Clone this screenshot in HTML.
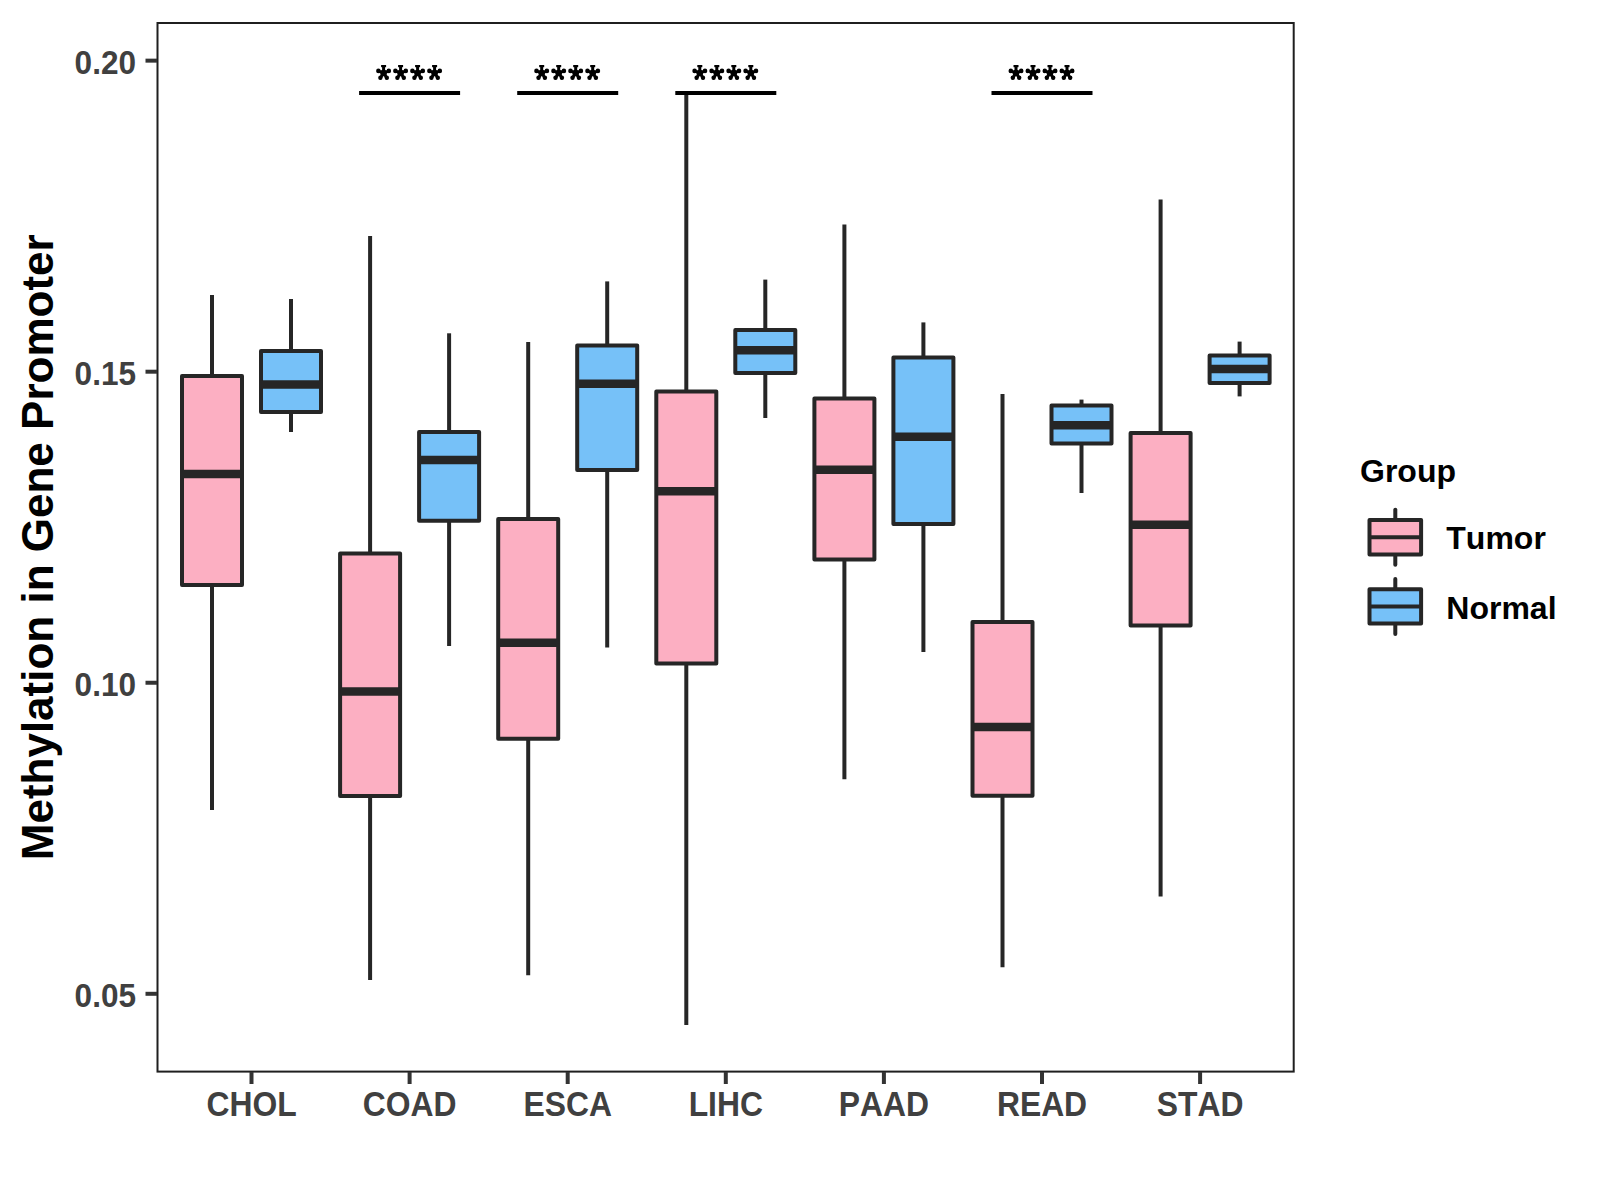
<!DOCTYPE html><html><head><meta charset="utf-8"><style>html,body{margin:0;padding:0;background:#fff;width:1600px;height:1200px;overflow:hidden}svg{display:block}text{font-family:"Liberation Sans", sans-serif;font-weight:bold;font-kerning:none}</style></head><body>
<svg width="1600" height="1200" viewBox="0 0 1600 1200">
<rect width="1600" height="1200" fill="#fff"/>
<line x1="212" y1="295" x2="212" y2="376" stroke="#262626" stroke-width="4"/><line x1="212" y1="585" x2="212" y2="810" stroke="#262626" stroke-width="4"/><rect x="182" y="376" width="60" height="209" fill="#FCAFC2" stroke="#262626" stroke-width="4" stroke-linejoin="round"/><line x1="182" y1="474" x2="242" y2="474" stroke="#262626" stroke-width="8.5"/>
<line x1="291" y1="299" x2="291" y2="351" stroke="#262626" stroke-width="4"/><line x1="291" y1="412" x2="291" y2="432" stroke="#262626" stroke-width="4"/><rect x="261" y="351" width="60" height="61" fill="#76C1F8" stroke="#262626" stroke-width="4" stroke-linejoin="round"/><line x1="261" y1="384.4" x2="321" y2="384.4" stroke="#262626" stroke-width="8.5"/>
<line x1="370.1" y1="236" x2="370.1" y2="553.5" stroke="#262626" stroke-width="4"/><line x1="370.1" y1="795.9" x2="370.1" y2="980" stroke="#262626" stroke-width="4"/><rect x="340.1" y="553.5" width="60" height="242.4" fill="#FCAFC2" stroke="#262626" stroke-width="4" stroke-linejoin="round"/><line x1="340.1" y1="691.6" x2="400.1" y2="691.6" stroke="#262626" stroke-width="8.5"/>
<line x1="449.1" y1="333.3" x2="449.1" y2="432" stroke="#262626" stroke-width="4"/><line x1="449.1" y1="520.7" x2="449.1" y2="646" stroke="#262626" stroke-width="4"/><rect x="419.1" y="432" width="60" height="88.7" fill="#76C1F8" stroke="#262626" stroke-width="4" stroke-linejoin="round"/><line x1="419.1" y1="460" x2="479.1" y2="460" stroke="#262626" stroke-width="8.5"/>
<line x1="528.2" y1="342" x2="528.2" y2="519" stroke="#262626" stroke-width="4"/><line x1="528.2" y1="738.75" x2="528.2" y2="975.3" stroke="#262626" stroke-width="4"/><rect x="498.2" y="519" width="60" height="219.75" fill="#FCAFC2" stroke="#262626" stroke-width="4" stroke-linejoin="round"/><line x1="498.2" y1="642.7" x2="558.2" y2="642.7" stroke="#262626" stroke-width="8.5"/>
<line x1="607.2" y1="281.4" x2="607.2" y2="345.6" stroke="#262626" stroke-width="4"/><line x1="607.2" y1="470" x2="607.2" y2="647.6" stroke="#262626" stroke-width="4"/><rect x="577.2" y="345.6" width="60" height="124.4" fill="#76C1F8" stroke="#262626" stroke-width="4" stroke-linejoin="round"/><line x1="577.2" y1="383.7" x2="637.2" y2="383.7" stroke="#262626" stroke-width="8.5"/>
<line x1="686.3" y1="94.5" x2="686.3" y2="391.6" stroke="#262626" stroke-width="4"/><line x1="686.3" y1="663.4" x2="686.3" y2="1025" stroke="#262626" stroke-width="4"/><rect x="656.3" y="391.6" width="60" height="271.8" fill="#FCAFC2" stroke="#262626" stroke-width="4" stroke-linejoin="round"/><line x1="656.3" y1="491.3" x2="716.3" y2="491.3" stroke="#262626" stroke-width="8.5"/>
<line x1="765.3" y1="279.6" x2="765.3" y2="330" stroke="#262626" stroke-width="4"/><line x1="765.3" y1="373" x2="765.3" y2="418" stroke="#262626" stroke-width="4"/><rect x="735.3" y="330" width="60" height="43" fill="#76C1F8" stroke="#262626" stroke-width="4" stroke-linejoin="round"/><line x1="735.3" y1="350.2" x2="795.3" y2="350.2" stroke="#262626" stroke-width="8.5"/>
<line x1="844.4" y1="224.6" x2="844.4" y2="398.4" stroke="#262626" stroke-width="4"/><line x1="844.4" y1="559.4" x2="844.4" y2="779.3" stroke="#262626" stroke-width="4"/><rect x="814.4" y="398.4" width="60" height="161" fill="#FCAFC2" stroke="#262626" stroke-width="4" stroke-linejoin="round"/><line x1="814.4" y1="469.8" x2="874.4" y2="469.8" stroke="#262626" stroke-width="8.5"/>
<line x1="923.4" y1="322.4" x2="923.4" y2="357.4" stroke="#262626" stroke-width="4"/><line x1="923.4" y1="524" x2="923.4" y2="652" stroke="#262626" stroke-width="4"/><rect x="893.4" y="357.4" width="60" height="166.6" fill="#76C1F8" stroke="#262626" stroke-width="4" stroke-linejoin="round"/><line x1="893.4" y1="436.7" x2="953.4" y2="436.7" stroke="#262626" stroke-width="8.5"/>
<line x1="1002.5" y1="394" x2="1002.5" y2="622" stroke="#262626" stroke-width="4"/><line x1="1002.5" y1="795.8" x2="1002.5" y2="967.2" stroke="#262626" stroke-width="4"/><rect x="972.5" y="622" width="60" height="173.8" fill="#FCAFC2" stroke="#262626" stroke-width="4" stroke-linejoin="round"/><line x1="972.5" y1="727.1" x2="1032.5" y2="727.1" stroke="#262626" stroke-width="8.5"/>
<line x1="1081.5" y1="399.6" x2="1081.5" y2="405.6" stroke="#262626" stroke-width="4"/><line x1="1081.5" y1="443.6" x2="1081.5" y2="493" stroke="#262626" stroke-width="4"/><rect x="1051.5" y="405.6" width="60" height="38" fill="#76C1F8" stroke="#262626" stroke-width="4" stroke-linejoin="round"/><line x1="1051.5" y1="425.3" x2="1111.5" y2="425.3" stroke="#262626" stroke-width="8.5"/>
<line x1="1160.6" y1="199.4" x2="1160.6" y2="433" stroke="#262626" stroke-width="4"/><line x1="1160.6" y1="625.6" x2="1160.6" y2="896.5" stroke="#262626" stroke-width="4"/><rect x="1130.6" y="433" width="60" height="192.6" fill="#FCAFC2" stroke="#262626" stroke-width="4" stroke-linejoin="round"/><line x1="1130.6" y1="524.7" x2="1190.6" y2="524.7" stroke="#262626" stroke-width="8.5"/>
<line x1="1239.6" y1="341.6" x2="1239.6" y2="355.6" stroke="#262626" stroke-width="4"/><line x1="1239.6" y1="383" x2="1239.6" y2="396.4" stroke="#262626" stroke-width="4"/><rect x="1209.6" y="355.6" width="60" height="27.4" fill="#76C1F8" stroke="#262626" stroke-width="4" stroke-linejoin="round"/><line x1="1209.6" y1="369" x2="1269.6" y2="369" stroke="#262626" stroke-width="8.5"/>
<line x1="359.1" y1="93" x2="460.1" y2="93" stroke="#000" stroke-width="4"/>
<g transform="translate(376.1,65)" fill="#000" stroke="#000"><path d="M7.5 7.8 L7.5 1.6 M7.5 7.8 L2.2 6.1 M7.5 7.8 L12.8 6.1 M7.5 7.8 L4.3 13 M7.5 7.8 L10.7 13" stroke-width="3" stroke-linecap="round" fill="none"/><rect x="5" y="0" width="5" height="2.2" stroke="none"/><circle cx="2.3" cy="5.9" r="2.3" stroke="none"/><circle cx="12.7" cy="5.9" r="2.3" stroke="none"/><circle cx="4.3" cy="12.8" r="2.2" stroke="none"/><circle cx="10.7" cy="12.8" r="2.2" stroke="none"/><circle cx="7.5" cy="8" r="3.3" stroke="none"/></g>
<g transform="translate(393.1,65)" fill="#000" stroke="#000"><path d="M7.5 7.8 L7.5 1.6 M7.5 7.8 L2.2 6.1 M7.5 7.8 L12.8 6.1 M7.5 7.8 L4.3 13 M7.5 7.8 L10.7 13" stroke-width="3" stroke-linecap="round" fill="none"/><rect x="5" y="0" width="5" height="2.2" stroke="none"/><circle cx="2.3" cy="5.9" r="2.3" stroke="none"/><circle cx="12.7" cy="5.9" r="2.3" stroke="none"/><circle cx="4.3" cy="12.8" r="2.2" stroke="none"/><circle cx="10.7" cy="12.8" r="2.2" stroke="none"/><circle cx="7.5" cy="8" r="3.3" stroke="none"/></g>
<g transform="translate(410.1,65)" fill="#000" stroke="#000"><path d="M7.5 7.8 L7.5 1.6 M7.5 7.8 L2.2 6.1 M7.5 7.8 L12.8 6.1 M7.5 7.8 L4.3 13 M7.5 7.8 L10.7 13" stroke-width="3" stroke-linecap="round" fill="none"/><rect x="5" y="0" width="5" height="2.2" stroke="none"/><circle cx="2.3" cy="5.9" r="2.3" stroke="none"/><circle cx="12.7" cy="5.9" r="2.3" stroke="none"/><circle cx="4.3" cy="12.8" r="2.2" stroke="none"/><circle cx="10.7" cy="12.8" r="2.2" stroke="none"/><circle cx="7.5" cy="8" r="3.3" stroke="none"/></g>
<g transform="translate(427.1,65)" fill="#000" stroke="#000"><path d="M7.5 7.8 L7.5 1.6 M7.5 7.8 L2.2 6.1 M7.5 7.8 L12.8 6.1 M7.5 7.8 L4.3 13 M7.5 7.8 L10.7 13" stroke-width="3" stroke-linecap="round" fill="none"/><rect x="5" y="0" width="5" height="2.2" stroke="none"/><circle cx="2.3" cy="5.9" r="2.3" stroke="none"/><circle cx="12.7" cy="5.9" r="2.3" stroke="none"/><circle cx="4.3" cy="12.8" r="2.2" stroke="none"/><circle cx="10.7" cy="12.8" r="2.2" stroke="none"/><circle cx="7.5" cy="8" r="3.3" stroke="none"/></g>
<line x1="517.2" y1="93" x2="618.2" y2="93" stroke="#000" stroke-width="4"/>
<g transform="translate(534.2,65)" fill="#000" stroke="#000"><path d="M7.5 7.8 L7.5 1.6 M7.5 7.8 L2.2 6.1 M7.5 7.8 L12.8 6.1 M7.5 7.8 L4.3 13 M7.5 7.8 L10.7 13" stroke-width="3" stroke-linecap="round" fill="none"/><rect x="5" y="0" width="5" height="2.2" stroke="none"/><circle cx="2.3" cy="5.9" r="2.3" stroke="none"/><circle cx="12.7" cy="5.9" r="2.3" stroke="none"/><circle cx="4.3" cy="12.8" r="2.2" stroke="none"/><circle cx="10.7" cy="12.8" r="2.2" stroke="none"/><circle cx="7.5" cy="8" r="3.3" stroke="none"/></g>
<g transform="translate(551.2,65)" fill="#000" stroke="#000"><path d="M7.5 7.8 L7.5 1.6 M7.5 7.8 L2.2 6.1 M7.5 7.8 L12.8 6.1 M7.5 7.8 L4.3 13 M7.5 7.8 L10.7 13" stroke-width="3" stroke-linecap="round" fill="none"/><rect x="5" y="0" width="5" height="2.2" stroke="none"/><circle cx="2.3" cy="5.9" r="2.3" stroke="none"/><circle cx="12.7" cy="5.9" r="2.3" stroke="none"/><circle cx="4.3" cy="12.8" r="2.2" stroke="none"/><circle cx="10.7" cy="12.8" r="2.2" stroke="none"/><circle cx="7.5" cy="8" r="3.3" stroke="none"/></g>
<g transform="translate(568.2,65)" fill="#000" stroke="#000"><path d="M7.5 7.8 L7.5 1.6 M7.5 7.8 L2.2 6.1 M7.5 7.8 L12.8 6.1 M7.5 7.8 L4.3 13 M7.5 7.8 L10.7 13" stroke-width="3" stroke-linecap="round" fill="none"/><rect x="5" y="0" width="5" height="2.2" stroke="none"/><circle cx="2.3" cy="5.9" r="2.3" stroke="none"/><circle cx="12.7" cy="5.9" r="2.3" stroke="none"/><circle cx="4.3" cy="12.8" r="2.2" stroke="none"/><circle cx="10.7" cy="12.8" r="2.2" stroke="none"/><circle cx="7.5" cy="8" r="3.3" stroke="none"/></g>
<g transform="translate(585.2,65)" fill="#000" stroke="#000"><path d="M7.5 7.8 L7.5 1.6 M7.5 7.8 L2.2 6.1 M7.5 7.8 L12.8 6.1 M7.5 7.8 L4.3 13 M7.5 7.8 L10.7 13" stroke-width="3" stroke-linecap="round" fill="none"/><rect x="5" y="0" width="5" height="2.2" stroke="none"/><circle cx="2.3" cy="5.9" r="2.3" stroke="none"/><circle cx="12.7" cy="5.9" r="2.3" stroke="none"/><circle cx="4.3" cy="12.8" r="2.2" stroke="none"/><circle cx="10.7" cy="12.8" r="2.2" stroke="none"/><circle cx="7.5" cy="8" r="3.3" stroke="none"/></g>
<line x1="675.3" y1="93" x2="776.3" y2="93" stroke="#000" stroke-width="4"/>
<g transform="translate(692.3,65)" fill="#000" stroke="#000"><path d="M7.5 7.8 L7.5 1.6 M7.5 7.8 L2.2 6.1 M7.5 7.8 L12.8 6.1 M7.5 7.8 L4.3 13 M7.5 7.8 L10.7 13" stroke-width="3" stroke-linecap="round" fill="none"/><rect x="5" y="0" width="5" height="2.2" stroke="none"/><circle cx="2.3" cy="5.9" r="2.3" stroke="none"/><circle cx="12.7" cy="5.9" r="2.3" stroke="none"/><circle cx="4.3" cy="12.8" r="2.2" stroke="none"/><circle cx="10.7" cy="12.8" r="2.2" stroke="none"/><circle cx="7.5" cy="8" r="3.3" stroke="none"/></g>
<g transform="translate(709.3,65)" fill="#000" stroke="#000"><path d="M7.5 7.8 L7.5 1.6 M7.5 7.8 L2.2 6.1 M7.5 7.8 L12.8 6.1 M7.5 7.8 L4.3 13 M7.5 7.8 L10.7 13" stroke-width="3" stroke-linecap="round" fill="none"/><rect x="5" y="0" width="5" height="2.2" stroke="none"/><circle cx="2.3" cy="5.9" r="2.3" stroke="none"/><circle cx="12.7" cy="5.9" r="2.3" stroke="none"/><circle cx="4.3" cy="12.8" r="2.2" stroke="none"/><circle cx="10.7" cy="12.8" r="2.2" stroke="none"/><circle cx="7.5" cy="8" r="3.3" stroke="none"/></g>
<g transform="translate(726.3,65)" fill="#000" stroke="#000"><path d="M7.5 7.8 L7.5 1.6 M7.5 7.8 L2.2 6.1 M7.5 7.8 L12.8 6.1 M7.5 7.8 L4.3 13 M7.5 7.8 L10.7 13" stroke-width="3" stroke-linecap="round" fill="none"/><rect x="5" y="0" width="5" height="2.2" stroke="none"/><circle cx="2.3" cy="5.9" r="2.3" stroke="none"/><circle cx="12.7" cy="5.9" r="2.3" stroke="none"/><circle cx="4.3" cy="12.8" r="2.2" stroke="none"/><circle cx="10.7" cy="12.8" r="2.2" stroke="none"/><circle cx="7.5" cy="8" r="3.3" stroke="none"/></g>
<g transform="translate(743.3,65)" fill="#000" stroke="#000"><path d="M7.5 7.8 L7.5 1.6 M7.5 7.8 L2.2 6.1 M7.5 7.8 L12.8 6.1 M7.5 7.8 L4.3 13 M7.5 7.8 L10.7 13" stroke-width="3" stroke-linecap="round" fill="none"/><rect x="5" y="0" width="5" height="2.2" stroke="none"/><circle cx="2.3" cy="5.9" r="2.3" stroke="none"/><circle cx="12.7" cy="5.9" r="2.3" stroke="none"/><circle cx="4.3" cy="12.8" r="2.2" stroke="none"/><circle cx="10.7" cy="12.8" r="2.2" stroke="none"/><circle cx="7.5" cy="8" r="3.3" stroke="none"/></g>
<line x1="991.5" y1="93" x2="1092.5" y2="93" stroke="#000" stroke-width="4"/>
<g transform="translate(1008.5,65)" fill="#000" stroke="#000"><path d="M7.5 7.8 L7.5 1.6 M7.5 7.8 L2.2 6.1 M7.5 7.8 L12.8 6.1 M7.5 7.8 L4.3 13 M7.5 7.8 L10.7 13" stroke-width="3" stroke-linecap="round" fill="none"/><rect x="5" y="0" width="5" height="2.2" stroke="none"/><circle cx="2.3" cy="5.9" r="2.3" stroke="none"/><circle cx="12.7" cy="5.9" r="2.3" stroke="none"/><circle cx="4.3" cy="12.8" r="2.2" stroke="none"/><circle cx="10.7" cy="12.8" r="2.2" stroke="none"/><circle cx="7.5" cy="8" r="3.3" stroke="none"/></g>
<g transform="translate(1025.5,65)" fill="#000" stroke="#000"><path d="M7.5 7.8 L7.5 1.6 M7.5 7.8 L2.2 6.1 M7.5 7.8 L12.8 6.1 M7.5 7.8 L4.3 13 M7.5 7.8 L10.7 13" stroke-width="3" stroke-linecap="round" fill="none"/><rect x="5" y="0" width="5" height="2.2" stroke="none"/><circle cx="2.3" cy="5.9" r="2.3" stroke="none"/><circle cx="12.7" cy="5.9" r="2.3" stroke="none"/><circle cx="4.3" cy="12.8" r="2.2" stroke="none"/><circle cx="10.7" cy="12.8" r="2.2" stroke="none"/><circle cx="7.5" cy="8" r="3.3" stroke="none"/></g>
<g transform="translate(1042.5,65)" fill="#000" stroke="#000"><path d="M7.5 7.8 L7.5 1.6 M7.5 7.8 L2.2 6.1 M7.5 7.8 L12.8 6.1 M7.5 7.8 L4.3 13 M7.5 7.8 L10.7 13" stroke-width="3" stroke-linecap="round" fill="none"/><rect x="5" y="0" width="5" height="2.2" stroke="none"/><circle cx="2.3" cy="5.9" r="2.3" stroke="none"/><circle cx="12.7" cy="5.9" r="2.3" stroke="none"/><circle cx="4.3" cy="12.8" r="2.2" stroke="none"/><circle cx="10.7" cy="12.8" r="2.2" stroke="none"/><circle cx="7.5" cy="8" r="3.3" stroke="none"/></g>
<g transform="translate(1059.5,65)" fill="#000" stroke="#000"><path d="M7.5 7.8 L7.5 1.6 M7.5 7.8 L2.2 6.1 M7.5 7.8 L12.8 6.1 M7.5 7.8 L4.3 13 M7.5 7.8 L10.7 13" stroke-width="3" stroke-linecap="round" fill="none"/><rect x="5" y="0" width="5" height="2.2" stroke="none"/><circle cx="2.3" cy="5.9" r="2.3" stroke="none"/><circle cx="12.7" cy="5.9" r="2.3" stroke="none"/><circle cx="4.3" cy="12.8" r="2.2" stroke="none"/><circle cx="10.7" cy="12.8" r="2.2" stroke="none"/><circle cx="7.5" cy="8" r="3.3" stroke="none"/></g>
<rect x="157.5" y="23" width="1136.2" height="1048.6" fill="none" stroke="#1f1f1f" stroke-width="2"/>
<line x1="145.5" y1="60.65" x2="157" y2="60.65" stroke="#333" stroke-width="4"/>
<text transform="translate(136,73.65) scale(0.935,1)" font-size="33.75" text-anchor="end" fill="#404040">0.20</text>
<line x1="145.5" y1="371.7" x2="157" y2="371.7" stroke="#333" stroke-width="4"/>
<text transform="translate(136,384.7) scale(0.935,1)" font-size="33.75" text-anchor="end" fill="#404040">0.15</text>
<line x1="145.5" y1="682.75" x2="157" y2="682.75" stroke="#333" stroke-width="4"/>
<text transform="translate(136,695.75) scale(0.935,1)" font-size="33.75" text-anchor="end" fill="#404040">0.10</text>
<line x1="145.5" y1="993.8" x2="157" y2="993.8" stroke="#333" stroke-width="4"/>
<text transform="translate(136,1006.8) scale(0.935,1)" font-size="33.75" text-anchor="end" fill="#404040">0.05</text>
<line x1="251.5" y1="1072" x2="251.5" y2="1084" stroke="#333" stroke-width="4"/>
<text transform="translate(251.5,1116) scale(0.91,1)" font-size="35" text-anchor="middle" fill="#404040">CHOL</text>
<line x1="409.6" y1="1072" x2="409.6" y2="1084" stroke="#333" stroke-width="4"/>
<text transform="translate(409.6,1116) scale(0.91,1)" font-size="35" text-anchor="middle" fill="#404040">COAD</text>
<line x1="567.7" y1="1072" x2="567.7" y2="1084" stroke="#333" stroke-width="4"/>
<text transform="translate(567.7,1116) scale(0.91,1)" font-size="35" text-anchor="middle" fill="#404040">ESCA</text>
<line x1="725.8" y1="1072" x2="725.8" y2="1084" stroke="#333" stroke-width="4"/>
<text transform="translate(725.8,1116) scale(0.91,1)" font-size="35" text-anchor="middle" fill="#404040">LIHC</text>
<line x1="883.9" y1="1072" x2="883.9" y2="1084" stroke="#333" stroke-width="4"/>
<text transform="translate(883.9,1116) scale(0.91,1)" font-size="35" text-anchor="middle" fill="#404040">PAAD</text>
<line x1="1042" y1="1072" x2="1042" y2="1084" stroke="#333" stroke-width="4"/>
<text transform="translate(1042,1116) scale(0.91,1)" font-size="35" text-anchor="middle" fill="#404040">READ</text>
<line x1="1200.1" y1="1072" x2="1200.1" y2="1084" stroke="#333" stroke-width="4"/>
<text transform="translate(1200.1,1116) scale(0.91,1)" font-size="35" text-anchor="middle" fill="#404040">STAD</text>
<text transform="translate(53.2,547.3) rotate(-90)" font-size="44" text-anchor="middle" fill="#000">Methylation in Gene Promoter</text>
<text x="1360" y="482" font-size="32" fill="#000">Group</text>
<line x1="1395.3" y1="509.7" x2="1395.3" y2="564.7" stroke="#262626" stroke-width="4" stroke-linecap="round"/><rect x="1369.5" y="520" width="51.6" height="34.4" fill="#FCAFC2" stroke="#262626" stroke-width="4" stroke-linejoin="round"/><line x1="1369.5" y1="537.2" x2="1421.1" y2="537.2" stroke="#262626" stroke-width="4"/>
<line x1="1395.3" y1="578.9" x2="1395.3" y2="633.9" stroke="#262626" stroke-width="4" stroke-linecap="round"/><rect x="1369.5" y="589.2" width="51.6" height="34.4" fill="#76C1F8" stroke="#262626" stroke-width="4" stroke-linejoin="round"/><line x1="1369.5" y1="606.4" x2="1421.1" y2="606.4" stroke="#262626" stroke-width="4"/>
<text x="1446.3" y="549.4" font-size="32" fill="#000">Tumor</text>
<text x="1446.3" y="618.5" font-size="32" fill="#000">Normal</text>
</svg></body></html>
